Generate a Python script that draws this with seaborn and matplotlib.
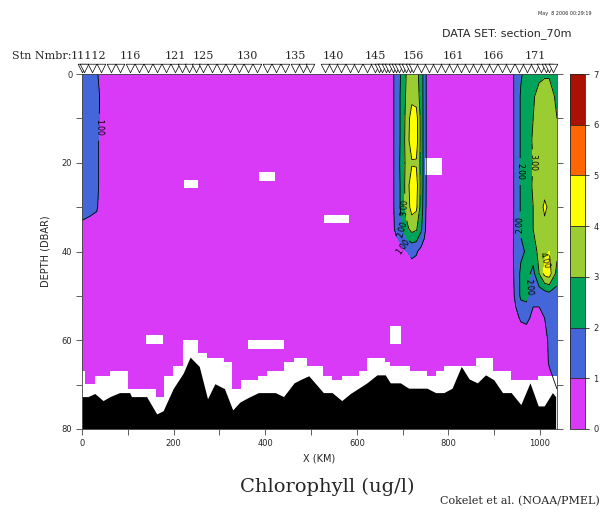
import numpy as np
import matplotlib
matplotlib.use("Agg")
import matplotlib.pyplot as plt
import seaborn as sns

sns.set_theme(style="ticks")
plt.rcParams["font.family"] = ["DejaVu Sans"]

# depth grid of the section (dbar)
depth_dbar = [0, 5, 10, 15, 20, 25, 30, 35, 40, 45, 50, 55, 60, 65, 70, 75, 80]

# along-section positions of the profiles (km)
column_km = [0, 18, 32, 45, 400, 672, 686, 698, 710, 720, 730, 740, 747, 755,
             850, 935, 947, 958, 970, 985, 998, 1010, 1020, 1037]

# chlorophyll profiles (ug/l), one list per column, top to bottom
chl_profiles = [
    [1.5, 1.5, 1.5, 1.5, 1.5, 1.4, 1.3, 0.8, 0.5, 0.5, 0.5, 0.5, 0.5, 0.5, 0.5, 0.5, 0.5],
    [1.4, 1.4, 1.4, 1.4, 1.4, 1.3, 1.2, 0.7, 0.6, 0.5, 0.5, 0.5, 0.5, 0.5, 0.5, 0.5, 0.5],
    [1.1, 1.3, 1.3, 1.2, 1.2, 1.2, 1.1, 0.6, 0.5, 0.5, 0.5, 0.5, 0.5, 0.5, 0.5, 0.5, 0.5],
    [0.6, 0.7, 0.6, 0.6, 0.6, 0.6, 0.5, 0.5, 0.5, 0.5, 0.5, 0.5, 0.5, 0.5, 0.5, 0.5, 0.5],
    [0.5, 0.5, 0.5, 0.5, 0.5, 0.5, 0.5, 0.5, 0.5, 0.5, 0.5, 0.5, 0.5, 0.5, 0.5, 0.5, 0.5],
    [0.5, 0.5, 0.5, 0.5, 0.5, 0.5, 0.5, 0.5, 0.5, 0.5, 0.5, 0.5, 0.5, 0.5, 0.5, 0.5, 0.5],
    [1.3, 1.3, 1.3, 1.3, 1.3, 1.3, 1.3, 1.2, 0.5, 0.5, 0.5, 0.5, 0.5, 0.5, 0.5, 0.5, 0.5],
    [2.2, 2.3, 2.3, 2.3, 2.4, 2.3, 2.3, 1.9, 0.7, 0.5, 0.5, 0.5, 0.5, 0.5, 0.5, 0.5, 0.5],
    [3.2, 3.3, 3.5, 3.6, 3.4, 3.6, 3.5, 2.8, 1.0, 0.5, 0.5, 0.5, 0.5, 0.5, 0.5, 0.5, 0.5],
    [3.4, 3.7, 4.5, 4.6, 3.9, 4.6, 4.4, 3.3, 1.2, 0.6, 0.5, 0.5, 0.5, 0.5, 0.5, 0.5, 0.5],
    [3.3, 3.6, 4.4, 4.5, 3.9, 4.4, 4.2, 3.1, 1.1, 0.5, 0.5, 0.5, 0.5, 0.5, 0.5, 0.5, 0.5],
    [2.6, 2.6, 2.7, 2.7, 2.7, 2.7, 2.6, 2.2, 0.7, 0.5, 0.5, 0.5, 0.5, 0.5, 0.5, 0.5, 0.5],
    [1.6, 1.6, 1.6, 1.6, 1.6, 1.6, 1.5, 1.3, 0.6, 0.5, 0.5, 0.5, 0.5, 0.5, 0.5, 0.5, 0.5],
    [0.5, 0.5, 0.5, 0.5, 0.5, 0.5, 0.5, 0.5, 0.5, 0.5, 0.5, 0.5, 0.5, 0.5, 0.5, 0.5, 0.5],
    [0.5, 0.5, 0.5, 0.5, 0.5, 0.5, 0.5, 0.5, 0.5, 0.5, 0.5, 0.5, 0.5, 0.5, 0.5, 0.5, 0.5],
    [0.5, 0.5, 0.5, 0.5, 0.5, 0.5, 0.5, 0.5, 0.5, 0.5, 0.5, 0.5, 0.5, 0.5, 0.5, 0.5, 0.5],
    [1.3, 1.3, 1.3, 1.3, 1.3, 1.3, 1.3, 1.3, 1.4, 1.3, 1.2, 0.8, 0.5, 0.5, 0.5, 0.5, 0.5],
    [1.9, 2.1, 2.1, 2.1, 2.1, 2.1, 2.1, 2.1, 1.8, 2.2, 2.2, 1.1, 0.5, 0.5, 0.5, 0.5, 0.5],
    [2.3, 2.5, 2.6, 2.6, 2.6, 2.6, 2.6, 2.5, 2.1, 2.4, 2.3, 1.2, 0.5, 0.5, 0.5, 0.5, 0.5],
    [2.6, 2.9, 3.0, 3.1, 3.0, 3.1, 3.0, 3.0, 2.5, 1.7, 1.2, 0.8, 0.5, 0.5, 0.5, 0.5, 0.5],
    [2.8, 3.3, 3.5, 3.5, 3.6, 3.6, 3.5, 3.6, 3.3, 3.0, 1.3, 0.7, 0.5, 0.5, 0.5, 0.5, 0.5],
    [2.9, 3.4, 3.6, 3.5, 3.6, 3.6, 4.2, 3.7, 3.8, 4.3, 1.3, 1.0, 0.8, 0.6, 0.5, 0.5, 0.5],
    [2.9, 3.4, 3.5, 3.5, 3.5, 3.7, 3.8, 3.8, 4.0, 4.5, 1.5, 1.2, 1.1, 1.1, 0.6, 0.5, 0.5],
    [2.5, 2.8, 3.0, 3.1, 3.1, 3.3, 3.4, 3.4, 3.3, 2.6, 1.5, 1.3, 1.2, 1.2, 1.1, 0.6, 0.5],
]

# lower limit of valid data (step edges, km) and its depth
edge_km = [0, 6, 28, 61, 101, 161, 179, 199, 220, 254, 272, 309, 327, 347, 385, 403,
           442, 462, 491, 527, 546, 567, 604, 622, 662, 673, 716, 753, 772, 790, 861,
           898, 936, 996, 1037]
edge_depth = [67.0, 69.8, 68.0, 67.0, 70.9, 72.9, 68.0, 65.9, 60.0, 62.9, 64.1, 64.9,
              70.9, 68.9, 68.0, 67.0, 64.9, 64.1, 65.9, 68.0, 68.9, 68.0, 67.0, 64.1,
              64.9, 65.9, 67.0, 68.0, 67.0, 65.9, 64.1, 67.0, 68.9, 68.0, 68.0]

# bottom topography
bottom_km = [0, 13, 28, 46, 61, 82, 104, 108, 141, 163, 177, 199, 221, 236, 256, 274,
             290, 311, 329, 345, 363, 385, 422, 440, 463, 476, 495, 527, 546, 567, 586,
             622, 644, 662, 673, 695, 713, 753, 772, 790, 808, 828, 845, 863, 881, 899,
             918, 937, 958, 978, 996, 1009, 1027, 1034]
bottom_depth = [72.7, 72.7, 72.0, 73.6, 72.7, 71.8, 71.8, 72.7, 72.7, 76.6, 75.9, 70.9,
                67.4, 63.8, 65.9, 73.2, 69.8, 70.9, 75.7, 73.9, 72.9, 71.8, 71.8, 72.7,
                69.6, 68.9, 68.0, 71.8, 71.8, 73.6, 72.0, 69.6, 67.8, 67.8, 69.6, 69.6,
                70.8, 70.8, 71.8, 71.8, 70.8, 65.9, 68.7, 69.6, 67.8, 68.9, 71.8, 71.8,
                74.5, 69.6, 74.8, 74.8, 71.8, 72.7]

# missing data boxes
miss_x0 = [223, 386, 528, 749, 139, 363, 672]
miss_x1 = [253, 421, 583, 786, 177, 440, 697]
miss_d0 = [23.9, 22.0, 31.8, 19.0, 58.9, 60.0, 56.8]
miss_d1 = [25.7, 24.0, 33.6, 22.7, 60.8, 61.9, 60.8]

# station casts
station_km = [0, 4, 21, 42, 63, 84, 105, 125, 144, 164, 184, 203, 218, 234, 249, 264,
              284, 303, 323, 342, 362, 383, 403, 424, 444, 465, 482, 498, 531, 548,
              566, 585, 603, 622, 640, 648, 655, 663, 670, 678, 685, 693, 700, 708,
              715, 723, 740, 758, 775, 793, 810, 828, 845, 863, 880, 898, 916, 934,
              953, 971, 989, 1002, 1012, 1020, 1028]
station_label_km = [13, 105, 203, 264, 362, 465, 548, 640, 723, 810, 898, 989]
station_labels = ["11112", "116", "121", "125", "130", "135", "140", "145", "156",
                  "161", "166", "171"]

chl_levels = [0, 1, 2, 3, 4, 5, 6, 7]
chl_colors = ["#d93af7", "#4466d8", "#00a35a", "#9acd32", "#ffff00", "#ff6600", "#aa1100"]

x_ticks = [0, 100, 200, 300, 400, 500, 600, 700, 800, 900, 1000]
x_tick_labels = ["0", "", "200", "", "400", "", "600", "", "800", "", "1000"]
y_ticks = [0, 10, 20, 30, 40, 50, 60, 70, 80]
y_tick_labels = ["0", "", "20", "", "40", "", "60", "", "80"]

W, H = 606, 516
fig = plt.figure(figsize=(W / 100, H / 100), dpi=100)
ax = fig.add_axes([82 / W, 1 - 429 / H, 475 / W, 355 / H])
cax = fig.add_axes([570 / W, 1 - 429 / H, 15 / W, 355 / H])

palette = sns.color_palette(chl_colors)
Z = np.array(chl_profiles).T
cf = ax.contourf(column_km, depth_dbar, Z, levels=chl_levels, colors=palette)
cs = ax.contour(column_km, depth_dbar, Z, levels=[1, 2, 3, 4], colors="black",
                linewidths=0.6)
ax.clabel(cs, fmt="%.2f", fontsize=5.5, inline=True,
          manual=[(34, 12), (706, 30), (700, 35), (700, 39), (955, 22),
                  (962, 34), (990, 20), (966, 48), (1012, 42)])

for x0, x1, d0, d1 in zip(miss_x0, miss_x1, miss_d0, miss_d1):
    ax.fill_between([x0, x1], [d0, d0], [d1, d1], color="white", lw=0)

ax.fill_between(edge_km, edge_depth, 80, step="post", color="white", lw=0)
ax.fill_between(bottom_km, bottom_depth, 80, color="black", lw=0)

ax.set_xlim(0, 1037)
ax.set_ylim(80, 0)
ax.set_xticks(x_ticks)
ax.set_xticklabels(x_tick_labels)
ax.set_yticks(y_ticks)
ax.set_yticklabels(y_tick_labels)
ax.tick_params(direction="out", length=4, width=0.6, color="#444444", labelsize=6,
               pad=3, right=True, top=False, left=True, bottom=True)
for side in ax.spines.values():
    side.set_linewidth(0.6)
    side.set_color("#444444")
ax.set_xlabel("X (KM)", fontsize=7, labelpad=4)
ax.set_ylabel("DEPTH (DBAR)", fontsize=7, labelpad=8)
ax.grid(False)

# station markers along the top
ax.scatter(station_km, [1.017] * len(station_km), marker="v", s=38,
           facecolor="white", edgecolor="black", linewidth=0.5,
           transform=ax.get_xaxis_transform(), clip_on=False, zorder=5)
for xk, lab in zip(station_label_km, station_labels):
    ax.text(xk, 1.05, lab, transform=ax.get_xaxis_transform(), ha="center",
            va="center", fontsize=8, family="DejaVu Serif")
fig.text(72 / W, 1 - 56 / H, "Stn Nmbr:", ha="right", va="center", fontsize=8,
         family="DejaVu Serif")

# colorbar
cb = fig.colorbar(cf, cax=cax, ticks=chl_levels, drawedges=True)
cb.outline.set_linewidth(0.6)
cb.dividers.set_linewidth(0.6)
cax.tick_params(direction="out", length=3, width=0.6, labelsize=6, pad=3)

fig.text(327 / W, 1 - 487 / H, "Chlorophyll (ug/l)", ha="center", va="center",
         fontsize=14, family="DejaVu Serif")
fig.text(600 / W, 1 - 501 / H, "Cokelet et al. (NOAA/PMEL)", ha="right",
         va="center", fontsize=8, family="DejaVu Serif")
fig.text(571 / W, 1 - 34 / H, "DATA SET: section_70m", ha="right", va="center",
         fontsize=8)
fig.text(592 / W, 1 - 13 / H, "May  8 2006 00:29:19", ha="right", va="center",
         fontsize=3.5)

fig.savefig("out.png", dpi=100)
